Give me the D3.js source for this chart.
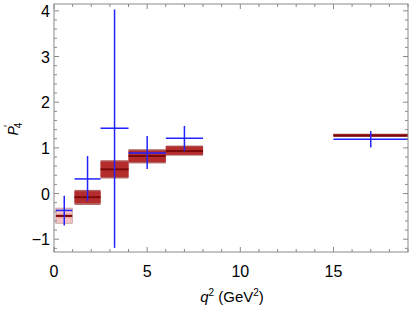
<!DOCTYPE html>
<html>
<head>
<meta charset="utf-8">
<script src="https://cdn.jsdelivr.net/npm/d3@7"></script>
<style>
  body { margin: 0; background: #fff; }
  text { font-family: "Liberation Sans", Arial, sans-serif; }
</style>
</head>
<body>
<svg id="chart" width="409" height="309"></svg>
<script>
// q2 bins (GeV^2)
const binLo = [0.1, 1.1, 2.5, 4, 6, 15];
const binHi = [0.98, 2.5, 4, 6, 8, 19];

// SM prediction: central value, inner band, outer band
const smCentral = [-0.49, -0.08, 0.53, 0.82, 0.93, 1.27];
const smInnerLo = [-0.54, -0.21, 0.36, 0.69, 0.85, 1.25];
const smInnerHi = [-0.44, 0.05, 0.70, 0.94, 1.03, 1.30];
const smOuterLo = [-0.65, -0.25, 0.33, 0.66, 0.83, 1.24];
const smOuterHi = [-0.32, 0.08, 0.73, 0.97, 1.05, 1.31];

// measurement
const dataX = [0.55, 1.8, 3.25, 5.0, 7.0, 17.0];
const dataY = [-0.37, 0.32, 1.43, 0.89, 1.21, 1.19];
const dataLo = [-0.70, -0.16, -1.19, 0.54, 0.93, 1.01];
const dataHi = [-0.05, 0.82, 4.03, 1.26, 1.48, 1.37];

const xTicks = [0, 5, 10, 15];
const yTicks = [-1, 0, 1, 2, 3, 4];

const svg = d3.select("#chart");
const mLeft = 54, mRight = 408, mTop = 4, mBottom = 252;

const x = d3.scaleLinear().domain([0, 19]).range([mLeft, mRight]);
const y = d3.scaleLinear().domain([-1.28, 4.15]).range([mBottom, mTop]);

const bins = binLo.map((lo, i) => ({
  lo, hi: binHi[i], c: smCentral[i],
  iLo: smInnerLo[i], iHi: smInnerHi[i], oLo: smOuterLo[i], oHi: smOuterHi[i],
  first: i === 0
}));

// SM boxes
const g = svg.append("g");
g.selectAll("rect.outer").data(bins).enter().append("rect")
  .attr("x", d => x(d.lo)).attr("width", d => x(d.hi) - x(d.lo))
  .attr("y", d => y(d.oHi)).attr("height", d => y(d.oLo) - y(d.oHi))
  .attr("fill", d => d.first ? "#f6c4c4" : "#b06868")
  .attr("stroke", d => d.first ? "#c09a9a" : "none").attr("stroke-width", 0.8);
g.selectAll("rect.inner").data(bins).enter().append("rect")
  .attr("x", d => x(d.lo)).attr("width", d => x(d.hi) - x(d.lo))
  .attr("y", d => y(d.iHi)).attr("height", d => y(d.iLo) - y(d.iHi))
  .attr("fill", d => d.first ? "#e9a6a6" : "#b52c2c");
g.selectAll("line.central").data(bins).enter().append("line")
  .attr("x1", d => x(d.lo)).attr("x2", d => x(d.hi))
  .attr("y1", d => y(d.c)).attr("y2", d => y(d.c))
  .attr("stroke", "#7a0a0a").attr("stroke-width", 2);

// measurement crosses
const pts = dataX.map((v, i) => ({ x: v, y: dataY[i], lo: dataLo[i], hi: dataHi[i], bLo: binLo[i], bHi: binHi[i] }));
const blue = "#2222ff";
svg.selectAll("line.hbar").data(pts).enter().append("line")
  .attr("x1", d => x(d.bLo)).attr("x2", d => x(d.bHi))
  .attr("y1", d => y(d.y)).attr("y2", d => y(d.y))
  .attr("stroke", blue).attr("stroke-width", 1.5);
svg.selectAll("line.vbar").data(pts).enter().append("line")
  .attr("x1", d => x(d.x)).attr("x2", d => x(d.x))
  .attr("y1", d => y(d.lo)).attr("y2", d => y(d.hi))
  .attr("stroke", blue).attr("stroke-width", 1.5);

// frame + ticks (inward on all sides)
const frame = "#8a8a8a";
const axG = svg.append("g").attr("stroke", frame).attr("stroke-width", 1);
axG.append("rect").attr("x", mLeft).attr("y", mTop).attr("width", mRight - mLeft).attr("height", mBottom - mTop)
  .attr("fill", "none");

const xMinor = d3.range(0, 20, 1);
const yMinor = d3.range(-1.2, 4.15, 0.2);
xMinor.forEach(v => {
  const len = v % 5 === 0 ? 5 : 3;
  axG.append("line").attr("x1", x(v)).attr("x2", x(v)).attr("y1", mBottom).attr("y2", mBottom - len);
  axG.append("line").attr("x1", x(v)).attr("x2", x(v)).attr("y1", mTop).attr("y2", mTop + len);
});
yMinor.forEach(v => {
  const major = Math.abs(v - Math.round(v)) < 1e-6;
  const len = major ? 5 : 3;
  axG.append("line").attr("y1", y(v)).attr("y2", y(v)).attr("x1", mLeft).attr("x2", mLeft + len);
  axG.append("line").attr("y1", y(v)).attr("y2", y(v)).attr("x1", mRight).attr("x2", mRight - len);
});

// tick labels
svg.selectAll("text.xt").data(xTicks).enter().append("text")
  .attr("x", d => x(d)).attr("y", 277).attr("text-anchor", "middle")
  .attr("font-size", 16).text(d => d);
svg.selectAll("text.yt").data(yTicks).enter().append("text")
  .attr("x", mLeft - 4).attr("y", d => y(d) + 6).attr("text-anchor", "end")
  .attr("font-size", 16).text(d => d < 0 ? "\u2212" + Math.abs(d) : d);

// axis titles
const xl = svg.append("text").attr("x", 232).attr("y", 302).attr("text-anchor", "middle").attr("font-size", 15);
xl.append("tspan").attr("font-style", "italic").text("q");
xl.append("tspan").attr("font-size", 10).attr("dy", -6).text("2");
xl.append("tspan").attr("dy", 6).text(" (GeV");
xl.append("tspan").attr("font-size", 10).attr("dy", -6).text("2");
xl.append("tspan").attr("dy", 6).text(")");

const yl = svg.append("text").attr("transform", "translate(17.5,129) rotate(-90)")
  .attr("text-anchor", "middle").attr("font-size", 14);
yl.append("tspan").attr("font-style", "italic").text("P");
yl.append("tspan").attr("font-size", 10).attr("dy", -6).attr("dx", -1).text("\u2032");
yl.append("tspan").attr("font-size", 10).attr("dy", 10).attr("dx", -3).text("4");
</script>
</body>
</html>
